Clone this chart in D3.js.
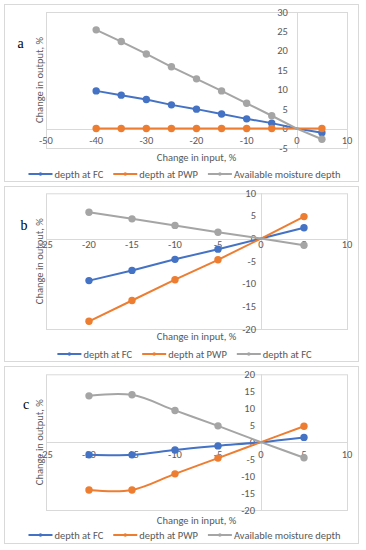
<!DOCTYPE html>
<html>
<head>
<meta charset="utf-8">
<script src="https://cdn.jsdelivr.net/npm/d3@7"></script>
<style>
  body { margin: 0; background: #fff; }
  text { font-family: Carlito, Lato, "Liberation Sans", sans-serif; }
</style>
</head>
<body>
<svg id="chart" width="366" height="550"></svg>
<script>
// panel a
const xA = [-40, -35, -30, -25, -20, -15, -10, -5, 0, 5];
const fcA = [9.7, 8.6, 7.5, 6.1, 5.0, 3.75, 2.5, 1.4, 0, -1.05];
const pwpA = [0, 0, 0, 0, 0, 0, 0, 0, 0, 0];
const amdA = [25.4, 22.4, 19.2, 15.9, 12.8, 9.7, 6.5, 3.3, 0, -2.75];

// panel b
const xB = [-20, -15, -10, -5, 0, 5];
const fcB = [-9.3, -7.05, -4.6, -2.35, 0, 2.4];
const pwpB = [-18.3, -13.7, -9.1, -4.7, 0, 4.85];
const amdB = [5.8, 4.35, 2.9, 1.4, 0, -1.5];

// panel c
const xC = [-20, -15, -10, -5, 0, 5];
const fcC = [-3.75, -3.75, -2.3, -1.1, 0, 1.4];
const pwpC = [-14.1, -14.1, -9.35, -4.7, 0, 4.7];
const amdC = [13.65, 13.95, 9.35, 4.8, 0, -4.6];

const xTicksA = [-50, -40, -30, -20, -10, 0, 10];
const yTicksA = [-5, 0, 5, 10, 15, 20, 25, 30];
const xTicksBC = [-25, -20, -15, -10, -5, 0, 5, 10];
const yTicksB = [-20, -15, -10, -5, 0, 5, 10];
const yTicksC = [-20, -15, -10, -5, 0, 5, 10, 15, 20];

const namesA = ['depth at FC', 'depth at PWP', 'Available moisture depth'];
const namesB = ['depth at FC', 'depth at PWP', 'depth at FC'];
const namesC = ['depth at FC', 'depth at PWP', 'Available moisture depth'];

const colors = ['#4472c4', '#ed7d31', '#a5a5a5'];
const textColor = '#595959';
const fs = '10.5px';

const svg = d3.select('#chart');

function drawPanel(p) {
    const g = svg.append('g');

    // outer frame
    g.append('rect')
        .attr('x', 4.5).attr('y', p.top + 0.5)
        .attr('width', 354).attr('height', p.height)
        .attr('fill', '#fff').attr('stroke', '#d9d9d9');

    const x = d3.scaleLinear().domain(d3.extent(p.xTicks)).range([46, 347]);
    const y = d3.scaleLinear().domain(d3.extent(p.yTicks)).range([p.plotBottom, p.plotTop]);

    // plot area border
    g.append('rect')
        .attr('x', x.range()[0] + 0.5).attr('y', y.range()[1] + 0.5)
        .attr('width', x.range()[1] - x.range()[0]).attr('height', y.range()[0] - y.range()[1])
        .attr('fill', 'none').attr('stroke', '#d9d9d9');

    // axis lines through zero
    g.append('line')
        .attr('x1', x.range()[0]).attr('x2', x.range()[1])
        .attr('y1', Math.round(y(0)) + 0.5).attr('y2', Math.round(y(0)) + 0.5)
        .attr('stroke', '#d9d9d9');
    g.append('line')
        .attr('x1', Math.round(x(0)) + 0.5).attr('x2', Math.round(x(0)) + 0.5)
        .attr('y1', y.range()[1]).attr('y2', y.range()[0])
        .attr('stroke', '#d9d9d9');

    // tick labels
    g.append('g').selectAll('text')
        .data(p.xTicks)
        .enter().append('text')
        .attr('x', function(d) { return x(d); })
        .attr('y', y(0) + p.xLabelOff)
        .attr('text-anchor', 'middle')
        .attr('dominant-baseline', 'central')
        .style('font-size', fs)
        .attr('fill', textColor)
        .text(function(d) { return d; });

    g.append('g').selectAll('text')
        .data(p.yTicks)
        .enter().append('text')
        .attr('x', x(0) - p.yLabelGap)
        .attr('y', function(d) { return y(d); })
        .attr('text-anchor', 'end')
        .attr('dominant-baseline', 'central')
        .style('font-size', fs)
        .attr('fill', textColor)
        .text(function(d) { return d; });

    // axis titles
    g.append('text')
        .attr('transform', 'translate(39,' + (p.plotTop + p.plotBottom) / 2 + ') rotate(-90)')
        .attr('text-anchor', 'middle')
        .attr('dominant-baseline', 'central')
        .style('font-size', fs)
        .attr('fill', textColor)
        .text('Change in output, %');
    g.append('text')
        .attr('x', 196.5).attr('y', p.xTitleY)
        .attr('text-anchor', 'middle')
        .attr('dominant-baseline', 'central')
        .style('font-size', fs)
        .attr('fill', textColor)
        .text('Change in input, %');

    // panel letter
    g.append('text')
        .attr('x', p.letterX).attr('y', p.letterY)
        .attr('text-anchor', 'middle')
        .attr('dominant-baseline', 'central')
        .style('font-family', '"Liberation Serif", "DejaVu Serif", serif')
        .style('font-size', '14px')
        .attr('fill', '#000')
        .text(p.letter);

    // series
    const curve = p.smooth ? d3.curveCatmullRom.alpha(0.5) : d3.curveLinear;
    const line = d3.line()
        .x(function(d) { return x(d.x); })
        .y(function(d) { return y(d.y); })
        .curve(curve);

    p.series.forEach(function(vals, i) {
        const pts = p.xs.map(function(xv, j) { return {x: xv, y: vals[j]}; });
        g.append('path')
            .datum(pts)
            .attr('d', line)
            .attr('fill', 'none')
            .attr('stroke', colors[i])
            .attr('stroke-width', 2);
        g.append('g').selectAll('circle')
            .data(pts.filter(function(d) { return d.x !== 0; }))
            .enter().append('circle')
            .attr('cx', function(d) { return x(d.x); })
            .attr('cy', function(d) { return y(d.y); })
            .attr('r', 3.7)
            .attr('fill', colors[i]);
    });

    // legend, centred
    const leg = g.append('g');
    let cx = 0;
    p.names.forEach(function(name, i) {
        const item = leg.append('g').attr('transform', 'translate(' + cx + ',0)');
        item.append('line')
            .attr('x1', 0).attr('x2', 24).attr('y1', 0).attr('y2', 0)
            .attr('stroke', colors[i]).attr('stroke-width', 2);
        item.append('circle').attr('cx', 12).attr('cy', 0).attr('r', 1.8).attr('fill', colors[i]);
        const t = item.append('text')
            .attr('x', 26).attr('y', 0)
            .attr('dominant-baseline', 'central')
            .style('font-size', fs)
            .attr('fill', textColor)
            .text(name);
        cx += 26 + t.node().getComputedTextLength() + 10;
    });
    const w = cx - 10;
    leg.attr('transform', 'translate(' + (184.5 - w / 2) + ',' + p.legendY + ')');
}

drawPanel({
    top: 4, height: 177, plotTop: 12, plotBottom: 148,
    xTicks: xTicksA, yTicks: yTicksA, xLabelOff: 12, yLabelGap: 9,
    xTitleY: 157, legendY: 174, letter: 'a', letterX: 20.5, letterY: 43,
    xs: xA, series: [fcA, pwpA, amdA], names: namesA, smooth: false
});
drawPanel({
    top: 186, height: 175, plotTop: 193.3, plotBottom: 329,
    xTicks: xTicksBC, yTicks: yTicksB, xLabelOff: 5.5, yLabelGap: 5,
    xTitleY: 336.7, legendY: 354, letter: 'b', letterX: 24, letterY: 225,
    xs: xB, series: [fcB, pwpB, amdB], names: namesB, smooth: false
});
drawPanel({
    top: 366, height: 177, plotTop: 374.3, plotBottom: 510,
    xTicks: xTicksBC, yTicks: yTicksC, xLabelOff: 12.5, yLabelGap: 6,
    xTitleY: 520.7, legendY: 535, letter: 'c', letterX: 26, letterY: 404,
    xs: xC, series: [fcC, pwpC, amdC], names: namesC, smooth: true
});
</script>
</body>
</html>
